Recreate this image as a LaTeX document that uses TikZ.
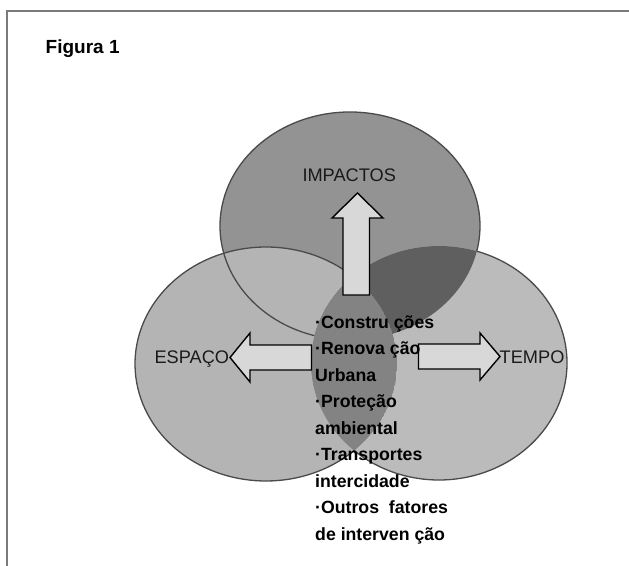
\documentclass[tikz,border=0pt]{standalone}
\usepackage{fontspec}
\setmainfont{Liberation Sans}
\definecolor{framegray}{HTML}{7A7A7A}
\definecolor{ringgray}{HTML}{4A4A4A}
\definecolor{topfill}{HTML}{939393}
\definecolor{leftfill}{HTML}{B4B4B4}
\definecolor{rightfill}{HTML}{BBBBBB}
\definecolor{darkfill}{HTML}{5F5F5F}
\definecolor{lensfill}{HTML}{838383}
\definecolor{arrowfill}{HTML}{D8D8D8}
\definecolor{labeltext}{HTML}{1A1A1A}
\begin{document}
\begin{tikzpicture}[x=1pt,y=-1pt,
  topE/.style={insert path={(350,226) ellipse [x radius=130pt, y radius=114pt]}},
  leftE/.style={insert path={(266,364) ellipse [x radius=131pt, y radius=117pt]}},
  rightE/.style={insert path={(439,363) ellipse [x radius=128pt, y radius=117pt]}},
  ring/.style={draw=ringgray, line width=1.3pt},
  blockarrow/.style={draw=black, fill=arrowfill, line width=1.4pt, line join=miter},
  circlabel/.style={font=\fontsize{18.2}{21}\selectfont, text=labeltext, inner sep=0pt},
  listline/.style={font=\bfseries\fontsize{17.7}{21}\selectfont, text=black, inner sep=0pt, anchor=base west},
  figtitle/.style={font=\bfseries\fontsize{19}{22}\selectfont, text=black, inner sep=0pt, anchor=base west}
]
\useasboundingbox (0,0) rectangle (629,565);

% page frame (top and left rules)
\draw[framegray, line width=2.2pt] (7.3,566) -- (7.3,11) -- (630,11);

\node[figtitle] (title) at (45.5,53.5) {Figura 1};

% base discs
\fill[topfill] [topE];
\fill[leftfill] [leftE];
\fill[rightfill] [rightE];

% overlaps inside the right disc
\begin{scope}
  \clip [rightE];
  \fill[darkfill] [topE];
  \clip [leftE];
  \fill[lensfill] [leftE];
\end{scope}

% outlines: only the arcs that do not run inside the right disc
% (the right disc's own outline stops where it enters the other two)
\draw[ring] (350,226) ++(-12.7:130pt and 114pt)
  arc [start angle=-12.7, end angle=254.1, x radius=130pt, y radius=114pt];
\draw[ring] (266,364) ++(48.5:131pt and 117pt)
  arc [start angle=48.5, end angle=312.2, x radius=131pt, y radius=117pt];
\draw[ring] (439,363) ++(72.8:128pt and 117pt)
  arc [start angle=72.8, end angle=-131.5, x radius=128pt, y radius=117pt];

% block arrows
\draw[blockarrow] (343,295) -- (343,218) -- (332,218) -- (357.5,193)
  -- (383,218) -- (369.5,218) -- (369.5,295) -- cycle;
\draw[blockarrow] (311.5,345) -- (250,345) -- (250,333) -- (230,357.5)
  -- (250,382) -- (250,370) -- (311.5,370) -- cycle;
\draw[blockarrow] (418.5,344) -- (480,344) -- (480,333) -- (500,356.5)
  -- (480,380) -- (480,369) -- (418.5,369) -- cycle;

% circle labels
\node[circlabel, anchor=base] (impactos) at (349.2,181.7) {IMPACTOS};
\node[circlabel, anchor=base east] (espaco) at (229.3,363.3) {ESPAÇO};
\node[circlabel, anchor=base west] (tempo) at (499.5,363.3) {TEMPO};

% list of intervention factors
\node[listline] (t1) at (315,328) {·Constru ções};
\node[listline] (t2) at (315,354.5) {·Renova ção};
\node[listline] (t3) at (315,381) {Urbana};
\node[listline] (t4) at (315,407.5) {·Proteção};
\node[listline] (t5) at (315,434) {ambiental};
\node[listline] (t6) at (315,460.5) {·Transportes};
\node[listline] (t7) at (315,487) {intercidade};
\node[listline] (t8) at (315,513.5) {·Outros\ \ fatores};
\node[listline] (t9) at (315,540) {de interven ção};
\end{tikzpicture}
\end{document}
